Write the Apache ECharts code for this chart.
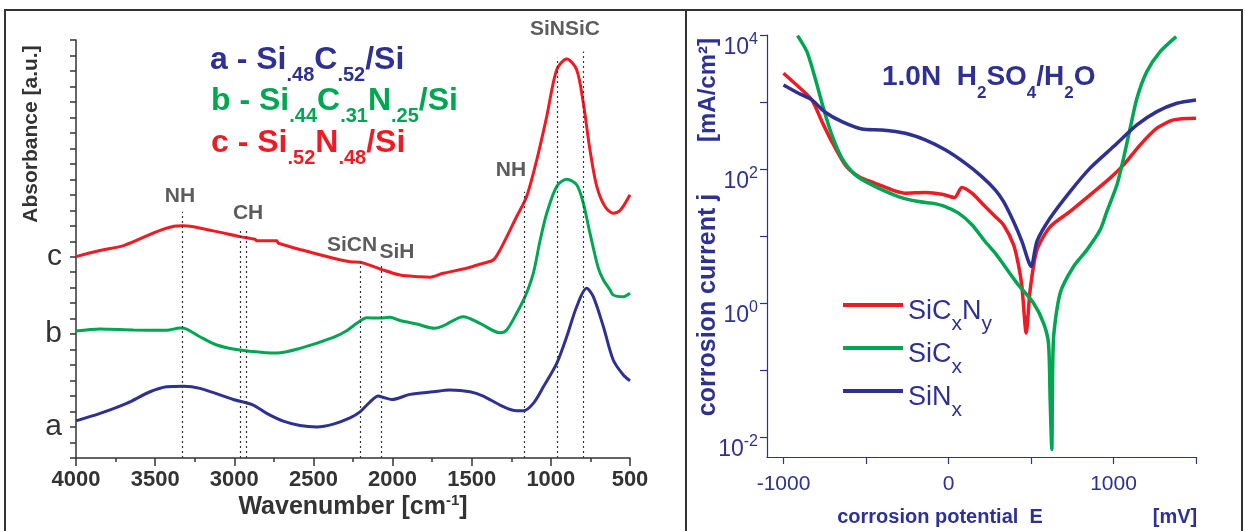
<!DOCTYPE html>
<html>
<head>
<meta charset="utf-8">
<title>SiCN films: IR absorbance and corrosion current</title>
<script src="https://cdn.jsdelivr.net/npm/echarts@6.0.0/dist/echarts.min.js"></script>
<style>
  html, body { margin: 0; padding: 0; background: #fff; }
  #chart { width: 1245px; height: 531px; }
</style>
</head>
<body>
<div id="chart"></div>
<script>
// ---- left panel: FTIR absorbance (curves offset), wavenumber in cm-1
const waveA = [4000, 3848, 3680, 3532, 3427, 3322, 3217, 3006, 2880, 2795, 2690, 2585, 2479, 2374, 2269, 2206, 2142, 2090, 2058, 2005, 1890, 1743, 1637, 1511, 1427, 1321, 1216, 1174, 1111, 1047, 963, 900, 837, 774, 732, 668, 606, 542, 500]
const absA = [2.40, 2.88, 3.53, 4.28, 4.60, 4.64, 4.50, 3.78, 3.42, 2.88, 2.38, 2.10, 2.01, 2.19, 2.59, 2.98, 3.63, 4.00, 3.91, 3.78, 4.11, 4.28, 4.39, 4.28, 4.00, 3.42, 3.05, 3.05, 3.53, 4.60, 6.11, 7.83, 9.77, 10.96, 10.42, 8.48, 6.33, 5.36, 4.99]

const waveB = [4000, 3848, 3638, 3427, 3343, 3301, 3217, 3111, 2964, 2795, 2732, 2585, 2374, 2290, 2226, 2163, 2079, 2016, 1953, 1848, 1732, 1680, 1553, 1448, 1321, 1279, 1216, 1163, 1111, 1069, 1026, 963, 900, 837, 795, 753, 700, 668, 626, 606, 542, 500]
const absB = [8.20, 8.33, 8.27, 8.25, 8.40, 8.33, 7.83, 7.30, 6.97, 6.80, 6.78, 7.08, 7.79, 8.22, 8.70, 9.06, 9.04, 9.09, 8.88, 8.65, 8.38, 8.53, 9.13, 8.70, 8.09, 8.27, 9.35, 10.42, 11.93, 14.0, 15.81, 17.54, 18.01, 17.65, 16.46, 14.52, 12.26, 11.50, 10.85, 10.53, 10.42, 10.64]

const waveC = [4000, 3848, 3700, 3364, 3322, 3133, 2964, 2869, 2858, 2732, 2722, 2374, 2269, 2206, 2079, 1953, 1827, 1763, 1680, 1532, 1427, 1364, 1321, 1216, 1153, 1089, 1026, 963, 900, 837, 795, 753, 710, 658, 606, 563, 500]
const absC = [13.01, 13.40, 13.72, 14.99, 15.0, 14.67, 14.30, 14.13, 14.04, 14.04, 13.87, 12.90, 12.68, 12.65, 12.21, 11.82, 11.71, 11.68, 11.93, 12.26, 12.58, 12.79, 13.44, 15.6, 16.89, 19.26, 22.06, 25.08, 25.78, 25.08, 22.93, 19.91, 17.54, 16.24, 15.81, 15.98, 17.0]

// absorption bands (dotted markers) and their labels
const bandWave = [3330, 2962, 2922, 2206, 2069, 1168, 960, 795]
const bandTop = [15.9, 14.73, 14.73, 12.66, 12.47, 17.2, 25.86, 26.25]
const bandNames = ['NH', 'CH', 'SiCN', 'SiH', 'NH', 'SiNSiC']
const bandNameWave = [3343, 2913, 2256, 1972, 1252, 911]
const bandNameY = [16.93, 15.83, 13.76, 13.31, 18.62, 27.67]

const curveLetters = { 2: 'a', 8: 'b', 13: 'c' }

// ---- right panel: corrosion potential E [mV] vs current j [mA/cm2]
const eSiCN = [-1000, -909, -828, -767, -707, -626, -545, -444, -343, -262, -141, -40, 36, 81, 142, 222, 283, 333, 394, 424, 445, 471, 495, 536, 616, 737, 858, 979, 1061, 1162, 1263, 1364, 1500]
const jSiCN = [2690, 1690, 1074, 509, 256, 115, 77, 61, 48.8, 43.5, 44.5, 42, 37.4, 52.8, 43.5, 27.5, 19.5, 14.7, 7.4, 3.7, 1.76, 0.356, 1.57, 6.2, 13.7, 23.2, 41, 73, 115, 229, 406, 540, 573]

const eSiC = [-915, -858, -808, -758, -707, -646, -565, -464, -303, -182, -101, -20, 61, 142, 222, 283, 313, 415, 515, 576, 606, 616, 626, 636, 677, 758, 839, 919, 960, 1021, 1061, 1101, 1142, 1202, 1283, 1380]
const jSiC = [9800, 5640, 2260, 807, 323, 145, 81.7, 57.9, 38.7, 32.6, 30.9, 27.5, 21.9, 14.7, 8.26, 5.55, 4.41, 1.98, 1.0, 0.50, 0.25, 0.036, 0.0065, 0.28, 1.41, 3.5, 6.2, 12.3, 23.2, 58, 145, 406, 1137, 2838, 5640, 9440]

const eSiN = [-1000, -909, -828, -747, -646, -525, -404, -262, -141, -20, 101, 202, 283, 333, 394, 445, 501, 536, 616, 737, 858, 1000, 1142, 1263, 1384, 1500]
const jSiN = [1795, 1350, 1074, 703, 509, 396, 383, 342, 272, 193, 122, 77, 48.8, 32.7, 16.4, 8.3, 3.5, 8.3, 18.5, 46, 103, 216, 455, 718, 957, 1074]

const decadeTicks = [-2, -1, 0, 1, 2, 3, 4]
const decadeLabels = [-2, 0, 2, 4]
const potentialTicks = [-1000, -500, 0, 500, 1000, 1500]
const potentialLabels = [-1000, 0, 1000]

const FONT = 'Liberation Sans, Arial, Helvetica, sans-serif'
const INK = '#333333'
const NAVY = '#2e3192'
const BLUE = '#2e3192'
const GREEN = '#00a651'
const RED = '#ed1c24'

function pairs(xs, ys) {
  return xs.map((x, i) => [x, ys[i]])
}
function logPairs(xs, ys) {
  return xs.map((x, i) => [x, Math.log10(ys[i])])
}

// chemical formula text with subscripts
function formulaRich(color, size, subSize, drop) {
  return {
    m: { fontSize: size, fontWeight: 'bold', fontFamily: FONT, fill: color, lineHeight: size + 2, verticalAlign: 'top' },
    s: { fontSize: subSize, fontWeight: 'bold', fontFamily: FONT, fill: color, lineHeight: subSize, padding: [drop, 0, 0, 0], verticalAlign: 'top' }
  }
}

const legendText = {
  SiCxNy: '{m|SiC}{s|x}{m|N}{s|y}',
  SiCx: '{m|SiC}{s|x}',
  SiNx: '{m|SiN}{s|x}'
}

const chart = echarts.init(document.getElementById('chart'))

const ftirLine = (name, color, data) => ({
  name,
  type: 'line',
  xAxisIndex: 0,
  yAxisIndex: 0,
  data,
  smooth: 0.3,
  symbol: 'none',
  lineStyle: { color, width: 3 },
  itemStyle: { color }
})

const tafelLine = (name, color, data) => ({
  name,
  type: 'line',
  xAxisIndex: 1,
  yAxisIndex: 1,
  data,
  smooth: 0.25,
  symbol: 'none',
  lineStyle: { color, width: 3.5 },
  itemStyle: { color }
})

const blueSeries = ftirLine('a', BLUE, pairs(waveA, absA))
blueSeries.markLine = {
  silent: true,
  symbol: ['none', 'none'],
  label: { show: false },
  lineStyle: { type: [2, 3], color: INK, width: 1.2 },
  data: bandWave.map((w, i) => [{ coord: [w, 0] }, { coord: [w, bandTop[i]] }])
}

chart.setOption({
  animation: false,
  backgroundColor: '#ffffff',
  textStyle: { fontFamily: FONT },
  grid: [
    { left: 76, top: 40, width: 554, bottom: 73 },
    { left: 767, top: 35, width: 429, bottom: 74 }
  ],
  xAxis: [
    {
      gridIndex: 0,
      type: 'value',
      inverse: true,
      min: 500,
      max: 4000,
      interval: 500,
      name: '{m|Wavenumber [cm}{s|-1}{m|]}',
      nameLocation: 'middle',
      nameGap: 31,
      nameMoveOverlap: false,
      nameTextStyle: {
        rich: {
          m: { fontSize: 25, fontWeight: 'bold', color: INK, lineHeight: 28, padding: [6, 0, 0, 0], verticalAlign: 'top' },
          s: { fontSize: 15, fontWeight: 'bold', color: INK, lineHeight: 15, padding: [4, 0, 0, 0], verticalAlign: 'top' }
        }
      },
      axisLine: { onZero: false, lineStyle: { color: INK, width: 1.5 } },
      axisTick: { length: 8, lineStyle: { color: INK, width: 1.5 } },
      minorTick: { show: true, splitNumber: 2, length: 4, lineStyle: { color: INK, width: 1.5 } },
      axisLabel: { fontSize: 22, fontWeight: 'bold', color: INK, margin: 11, formatter: v => String(v) },
      splitLine: { show: false }
    },
    {
      gridIndex: 1,
      type: 'value',
      min: -1100,
      max: 1500,
      axisLine: { onZero: false, lineStyle: { color: NAVY, width: 1.2 } },
      axisTick: { customValues: potentialTicks, length: 7, lineStyle: { color: NAVY, width: 1.2 } },
      axisLabel: { customValues: potentialLabels, fontSize: 21, color: NAVY, margin: 17, formatter: v => String(v) },
      splitLine: { show: false }
    }
  ],
  yAxis: [
    {
      gridIndex: 0,
      type: 'value',
      min: 0,
      max: 27,
      interval: 1,
      axisLine: { onZero: false, lineStyle: { color: INK, width: 1.5 } },
      axisTick: { length: 6, lineStyle: { color: INK, width: 1.5 } },
      axisLabel: { fontSize: 30, color: INK, margin: 14, formatter: v => curveLetters[v] || '' },
      splitLine: { show: false }
    },
    {
      gridIndex: 1,
      type: 'value',
      min: -2.3,
      max: 4,
      axisLine: { onZero: false, lineStyle: { color: NAVY, width: 1.2 } },
      axisTick: { customValues: decadeTicks, length: 7, lineStyle: { color: NAVY, width: 1.2 } },
      axisLabel: {
        customValues: decadeLabels,
        margin: 9,
        formatter: v => '{b|10}{s|' + v + '}',
        rich: {
          b: { fontSize: 23, color: NAVY, lineHeight: 22, padding: [12, 0, 0, 0], verticalAlign: 'top' },
          s: { fontSize: 16, color: NAVY, lineHeight: 16, padding: [8, 0, 0, 0], verticalAlign: 'top' }
        }
      },
      splitLine: { show: false }
    }
  ],
  legend: {
    orient: 'vertical',
    left: 838,
    top: 285,
    itemWidth: 60,
    itemHeight: 4,
    icon: 'rect',
    itemGap: -2,
    selectedMode: false,
    data: ['SiCxNy', 'SiCx', 'SiNx'],
    formatter: name => legendText[name],
    textStyle: {
      color: NAVY,
      rich: {
        m: { fontSize: 27, color: NAVY, lineHeight: 30, padding: [8, 0, 8, 0], verticalAlign: 'top' },
        s: { fontSize: 21, color: NAVY, lineHeight: 22, padding: [24, 0, 0, 0], verticalAlign: 'top' }
      }
    }
  },
  series: [
    blueSeries,
    ftirLine('b', GREEN, pairs(waveB, absB)),
    ftirLine('c', RED, pairs(waveC, absC)),
    {
      name: 'bands',
      type: 'scatter',
      xAxisIndex: 0,
      yAxisIndex: 0,
      clip: false,
      silent: true,
      symbolSize: 0,
      data: bandNames.map((n, i) => [bandNameWave[i], bandNameY[i], n]),
      label: {
        show: true,
        position: 'inside',
        formatter: p => p.data[2],
        fontSize: 21,
        fontWeight: 'bold',
        color: INK
      }
    },
    tafelLine('SiCxNy', RED, logPairs(eSiCN, jSiCN)),
    tafelLine('SiCx', GREEN, logPairs(eSiC, jSiC)),
    tafelLine('SiNx', BLUE, logPairs(eSiN, jSiN))
  ],
  graphic: [
    { type: 'rect', z: -10, shape: { x: 5, y: 10, width: 1237, height: 530 }, style: { fill: null, stroke: INK, lineWidth: 2 } },
    { type: 'line', z: -10, shape: { x1: 686, y1: 10, x2: 686, y2: 531 }, style: { stroke: INK, lineWidth: 2 } },
    // left panel key
    { type: 'text', x: 210, y: 44, style: { text: '{m|a - Si}{s|.48}{m|C}{s|.52}{m|/Si}', rich: formulaRich(BLUE, 32, 20, 21) } },
    { type: 'text', x: 211, y: 85, style: { text: '{m|b - Si}{s|.44}{m|C}{s|.31}{m|N}{s|.25}{m|/Si}', rich: formulaRich(GREEN, 32, 20, 21) } },
    { type: 'text', x: 211, y: 127, style: { text: '{m|c - Si}{s|.52}{m|N}{s|.48}{m|/Si}', rich: formulaRich(RED, 32, 20, 21) } },
    {
      type: 'text', x: 31, y: 134, rotation: Math.PI / 2,
      style: { text: 'Absorbance [a.u.]', fontSize: 21, fontWeight: 'bold', fontFamily: FONT, fill: INK, align: 'center', verticalAlign: 'middle' }
    },
    // right panel title and axis names
    { type: 'text', x: 882, y: 63, style: { text: '{m|1.0N  H}{s|2}{m|SO}{s|4}{m|/H}{s|2}{m|O}', rich: formulaRich(NAVY, 28, 17, 22) } },
    {
      type: 'text', x: 708, y: 305, rotation: Math.PI / 2,
      style: { text: 'corrosion current j', fontSize: 25, fontWeight: 'bold', fontFamily: FONT, fill: NAVY, align: 'center', verticalAlign: 'middle' }
    },
    {
      type: 'text', x: 708, y: 90, rotation: Math.PI / 2,
      style: { text: '[mA/cm²]', fontSize: 24, fontWeight: 'bold', fontFamily: FONT, fill: NAVY, align: 'center', verticalAlign: 'middle' }
    },
    {
      type: 'text', x: 940, y: 517,
      style: { text: 'corrosion potential  E', fontSize: 20, fontWeight: 'bold', fontFamily: FONT, fill: NAVY, align: 'center', verticalAlign: 'middle' }
    },
    {
      type: 'text', x: 1175, y: 517,
      style: { text: '[mV]', fontSize: 20, fontWeight: 'bold', fontFamily: FONT, fill: NAVY, align: 'center', verticalAlign: 'middle' }
    }
  ]
})
</script>
</body>
</html>
